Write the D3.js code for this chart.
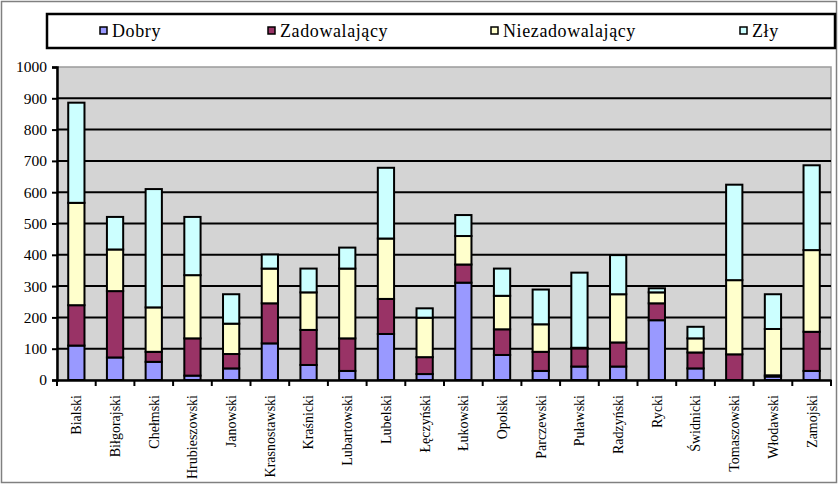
<!DOCTYPE html>
<html><head><meta charset="utf-8">
<script src="https://cdn.jsdelivr.net/npm/d3@7"></script>
<style>body{margin:0;background:#fff}svg{display:block}text{font-family:"Liberation Serif","Times New Roman",serif}</style>
</head><body>
<svg id="c" width="839" height="485"></svg>
<script>
const categories = ["Bialski","Biłgorajski","Chełmski","Hrubieszowski","Janowski","Krasnostawski","Kraśnicki","Lubartowski","Lubelski","Łęczyński","Łukowski","Opolski","Parczewski","Puławski","Radzyński","Rycki","Świdnicki","Tomaszowski","Włodawski","Zamojski"];
const dobry          = [110, 72, 58, 14, 37, 117, 48, 29, 147, 19, 311, 80, 29, 43, 43, 191, 37, 0, 11, 29];
const zadowalajacy   = [129, 212, 32, 119, 46, 128, 112, 104, 112, 54, 58, 82, 61, 58, 77, 54, 51, 82, 4, 125];
const niezadowalajacy= [327, 133, 142, 202, 97, 111, 120, 223, 193, 126, 91, 107, 88, 2, 154, 35, 45, 237, 148, 261];
const zly            = [320, 104, 378, 186, 94, 45, 76, 67, 226, 30, 67, 87, 111, 240, 125, 13, 37, 305, 111, 271];
const seriesNames = ["Dobry","Zadowalający","Niezadowalający","Zły"];
const seriesColors = ["#9999FF","#993366","#FFFFCC","#CCFFFF"];
const yTicks = [0,100,200,300,400,500,600,700,800,900,1000];

const FONT = "'Liberation Serif','Times New Roman',serif";
const svg = d3.select("#c");
const L = 57, R = 831, T = 67, B = 380;
svg.append("rect").attr("x",1.5).attr("y",1.5).attr("width",835).attr("height",481)
  .attr("fill","#fff").attr("stroke","#808080").attr("stroke-width",1.5);

const x = d3.scaleBand().domain(categories).range([L,R]).paddingInner(0.58).paddingOuter(0.29);
const y = d3.scaleLinear().domain([0,1000]).range([B,T]);

svg.append("rect").attr("x",L).attr("y",T).attr("width",R-L).attr("height",B-T)
  .attr("fill","#D4D4D4").attr("stroke","#9a9a9a").attr("stroke-width",1.5);

svg.append("g").selectAll("line").data(yTicks.filter(d=>d>0 && d<1000)).join("line")
  .attr("x1",L).attr("x2",R).attr("y1",d=>y(d)).attr("y2",d=>y(d))
  .attr("stroke","#000").attr("stroke-width",2);

const rows = categories.map((c,i)=>({cat:c, Dobry:dobry[i], "Zadowalający":zadowalajacy[i], "Niezadowalający":niezadowalajacy[i], "Zły":zly[i]}));
const stack = d3.stack().keys(seriesNames)(rows);
const g = svg.append("g");
stack.forEach((s,si)=>{
  g.selectAll(null).data(s.filter(d=>d[1]-d[0]>0)).join("rect")
    .attr("x",d=>x(d.data.cat)).attr("width",x.bandwidth())
    .attr("y",d=>y(d[1])).attr("height",d=>y(d[0])-y(d[1]))
    .attr("fill",seriesColors[si]).attr("stroke","#000").attr("stroke-width",2);
});

const ya = svg.append("g").attr("transform",`translate(${L},0)`)
  .call(d3.axisLeft(y).tickValues(yTicks).tickSize(5).tickPadding(5).tickFormat(d3.format("d")));
ya.attr("font-family",null);
ya.select(".domain").attr("stroke","#000").attr("stroke-width",2.5);
ya.selectAll(".tick line").attr("stroke","#000").attr("stroke-width",2);
ya.selectAll("text").style("font-family",FONT).attr("font-size",15.5).attr("fill","#000");

const xa = svg.append("g").attr("transform",`translate(0,${B})`)
  .call(d3.axisBottom(x).tickSize(0).tickPadding(0));
xa.attr("font-family",null);
xa.select(".domain").attr("stroke","#000").attr("stroke-width",2.5);
const step = x.step();
xa.append("g").selectAll("line").data(d3.range(categories.length+1)).join("line")
  .attr("x1",i=>L+i*step).attr("x2",i=>L+i*step).attr("y1",0).attr("y2",6)
  .attr("stroke","#000").attr("stroke-width",2);
xa.selectAll(".tick text")
  .style("font-family",FONT).attr("font-size",14).attr("fill","#000")
  .attr("transform","rotate(-90)").attr("text-anchor","end")
  .attr("x",-15).attr("y",0).attr("dy","0.35em");

const lg = svg.append("g");
lg.append("rect").attr("x",47).attr("y",14).attr("width",788).attr("height",34)
  .attr("fill","#fff").attr("stroke","#000").attr("stroke-width",2.5);
const legX = [100,268,491,740];
seriesNames.forEach((n,i)=>{
  lg.append("rect").attr("x",legX[i]).attr("y",27).attr("width",7).attr("height",7)
    .attr("fill",seriesColors[i]).attr("stroke","#000").attr("stroke-width",1.5);
  lg.append("text").attr("x",legX[i]+12).attr("y",37).text(n)
    .style("font-family",FONT).attr("font-size",18).attr("letter-spacing","0.6px").attr("fill","#000");
});
</script>
</body></html>
